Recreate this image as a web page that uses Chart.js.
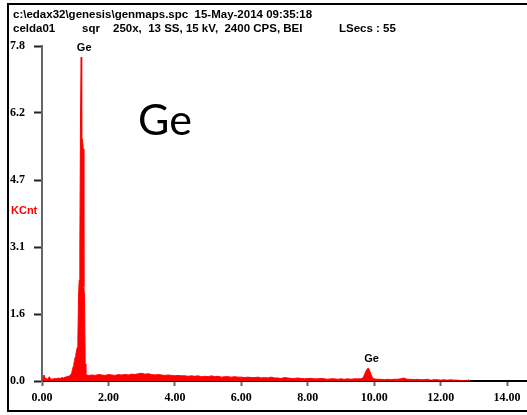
<!DOCTYPE html>
<html>
<head>
<meta charset="utf-8">
<script src="https://cdn.jsdelivr.net/npm/chart.js@4.4.1/dist/chart.umd.min.js"></script>
<style>
  html, body { margin: 0; padding: 0; background: #fff; overflow: hidden; }
  #wrap { position: relative; width: 527px; height: 415px; }
  #wrap canvas { position: absolute; left: 0; top: 0; }
  #frame {
    position: absolute; left: 7px; top: 3px; width: 540px; height: 409px;
    border: 2px solid #000; border-right: none; box-sizing: border-box;
    pointer-events: none;
  }
</style>
</head>
<body>
<div id="wrap">
  <canvas id="spectrum" width="527" height="415"></canvas>
  <div id="frame"></div>
</div>
<script>
// ---- Header text of the EDAX spectrum file ----
const headerPath = 'c:\\edax32\\genesis\\genmaps.spc';
const headerDate = '15-May-2014 09:35:18';
const sampleName = 'celda01';
const viewMode = 'sqr';
const conditions = '250x,  13 SS, 15 kV,  2400 CPS, BEI';
const liveTime = 'LSecs : 55';
const yUnit = 'KCnt';
const elementName = 'Ge';

// ---- Axis ticks ----
const xTickValues = [0, 2, 4, 6, 8, 10, 12, 14];
const xTickLabels = ['0.00', '2.00', '4.00', '6.00', '8.00', '10.00', '12.00', '14.00'];
const yTickValues = [0, 1.56, 3.12, 4.68, 6.24, 7.8];
const yTickLabels = ['0.0', '1.6', '3.1', '4.7', '6.2', '7.8'];
const xMax = 14.6;
const yMax = 7.8;

// ---- Spectrum: energy (keV) and counts (KCnt) ----
const energyKeV = [
  0.02, 0.06, 0.10, 0.14, 0.18, 0.22, 0.26, 0.30, 0.35, 0.40, 0.45, 0.50, 0.55, 0.60, 0.65, 0.70, 0.75, 0.80, 0.84,
  0.86, 0.88, 0.90, 0.92, 0.94, 0.96, 0.98, 1.00, 1.02, 1.04, 1.06, 1.08, 1.10, 1.12, 1.14, 1.16, 1.18, 1.19,
  1.20, 1.22, 1.24, 1.26, 1.28, 1.30, 1.32, 1.34,
  1.4, 1.5, 1.6, 1.7, 1.8, 1.9, 2.0, 2.1, 2.2, 2.3, 2.4, 2.5, 2.6, 2.7, 2.8, 2.9,
  3.0, 3.1, 3.2, 3.3, 3.4, 3.5, 3.6, 3.7, 3.8, 3.9, 4.0, 4.1, 4.2, 4.3, 4.4, 4.5, 4.6, 4.7, 4.8, 4.9,
  5.0, 5.1, 5.2, 5.3, 5.4, 5.5, 5.6, 5.7, 5.8, 5.9, 6.0, 6.1, 6.2, 6.3, 6.4, 6.5, 6.6, 6.7, 6.8, 6.9,
  7.0, 7.1, 7.2, 7.3, 7.4, 7.5, 7.6, 7.7, 7.8, 7.9, 8.0, 8.1, 8.2, 8.3, 8.4, 8.5, 8.6, 8.7, 8.8, 8.9,
  9.0, 9.1, 9.2, 9.3, 9.4, 9.5, 9.6,
  9.64, 9.68, 9.72, 9.76, 9.80, 9.82, 9.86, 9.90, 9.94, 9.98,
  10.1, 10.2, 10.3, 10.4, 10.5, 10.6, 10.7, 10.8, 10.84, 10.88, 10.92, 10.96,
  11.0, 11.1, 11.2, 11.3, 11.4, 11.5, 11.6, 11.7, 11.8, 11.9,
  12.0, 12.1, 12.2, 12.3, 12.4, 12.5, 12.6, 12.7, 12.8, 12.84, 12.88
];
const countsKCnt = [
  0.00, 0.14, 0.06, 0.05, 0.04, 0.10, 0.05, 0.04, 0.05, 0.06, 0.05, 0.07, 0.06, 0.08, 0.07, 0.09, 0.10, 0.11, 0.12,
  0.14, 0.17, 0.21, 0.27, 0.34, 0.40, 0.48, 0.56, 0.63, 0.70, 0.78, 0.98, 1.96, 2.35, 3.12, 6.19, 7.54, 6.19,
  5.63, 5.63, 5.40, 2.20, 1.96, 0.40, 0.18, 0.14,
  0.13, 0.14, 0.13, 0.15, 0.14, 0.13, 0.15, 0.14, 0.13, 0.15, 0.14, 0.15, 0.14, 0.16, 0.15, 0.17,
  0.18, 0.16, 0.17, 0.15, 0.14, 0.15, 0.14, 0.13, 0.14, 0.13, 0.12, 0.13, 0.12, 0.12, 0.11, 0.12, 0.11, 0.12, 0.10, 0.11,
  0.10, 0.12, 0.10, 0.11, 0.09, 0.10, 0.10, 0.09, 0.10, 0.09, 0.09, 0.08, 0.09, 0.08, 0.08, 0.09, 0.07, 0.08, 0.07, 0.09,
  0.07, 0.07, 0.06, 0.08, 0.07, 0.06, 0.06, 0.07, 0.06, 0.05, 0.06, 0.06, 0.05, 0.05, 0.06, 0.05, 0.04, 0.05, 0.05, 0.04,
  0.05, 0.04, 0.05, 0.04, 0.05, 0.05, 0.05,
  0.06, 0.10, 0.17, 0.24, 0.29, 0.30, 0.25, 0.16, 0.09, 0.05,
  0.04, 0.04, 0.03, 0.04, 0.03, 0.04, 0.04, 0.05, 0.06, 0.07, 0.06, 0.05,
  0.04, 0.04, 0.03, 0.04, 0.03, 0.03, 0.04, 0.02, 0.03, 0.03,
  0.02, 0.03, 0.02, 0.03, 0.02, 0.02, 0.01, 0.01, 0.00, 0.03, 0.00
];

// ---- Peak identification labels ----
const peakLabelText = ['Ge', 'Ge'];
const peakLabelKeV = [1.27, 9.92];
const peakLabelKCnt = [7.54, 0.30];

const fontSans = '"Liberation Sans", Arial, sans-serif';
const fontSerif = '"Liberation Serif", "Times New Roman", serif';

const annotations = {
  id: 'annotations',
  afterDraw(chart) {
    const { ctx } = chart;
    const xs = chart.scales.x, ys = chart.scales.y;
    ctx.save();
    ctx.textBaseline = 'alphabetic';
    ctx.textAlign = 'left';
    ctx.fillStyle = '#000';

    // file header
    ctx.font = 'bold 11.5px ' + fontSans;
    ctx.fillText(headerPath + '  ' + headerDate, 13, 18);
    ctx.fillText(sampleName, 13, 31.5);
    ctx.fillText(viewMode, 82, 31.5);
    ctx.fillText(conditions, 113, 31.5);
    ctx.fillText(liveTime, 339, 31.5);

    // unit on the vertical axis
    ctx.font = 'bold 11px ' + fontSans;
    ctx.fillStyle = '#ff0000';
    ctx.fillText(yUnit, 11, 214);

    // peak labels
    ctx.fillStyle = '#000';
    ctx.textAlign = 'center';
    peakLabelText.forEach((t, i) => {
      ctx.fillText(t, xs.getPixelForValue(peakLabelKeV[i]), ys.getPixelForValue(peakLabelKCnt[i]) - 6);
    });

    // element name
    ctx.textAlign = 'left';
    ctx.font = '43px Lato, "Open Sans", sans-serif';
    ctx.fillText(elementName, 138, 135);
    ctx.restore();
  }
};

new Chart(document.getElementById('spectrum'), {
  type: 'line',
  data: {
    datasets: [{
      data: energyKeV.map((e, i) => ({ x: e, y: countsKCnt[i] })),
      borderColor: '#ff0000',
      backgroundColor: '#ff0000',
      borderWidth: 1,
      pointRadius: 0,
      tension: 0,
      fill: 'origin'
    }]
  },
  options: {
    responsive: false,
    animation: false,
    devicePixelRatio: 1,
    events: [],
    layout: { padding: { top: 46, left: 10, right: 0, bottom: 0 } },
    plugins: { legend: { display: false }, tooltip: { enabled: false } },
    scales: {
      x: {
        type: 'linear',
        min: 0,
        max: xMax,
        z: 1,
        afterBuildTicks: s => { s.ticks = xTickValues.map(v => ({ value: v })); },
        afterFit: s => { s.height = 34; },
        grid: { drawOnChartArea: false, drawTicks: true, tickLength: 5, tickWidth: 2, tickColor: '#6a6a6a' },
        border: { display: true, color: '#000', width: 2 },
        ticks: {
          padding: 5,
          color: '#000',
          maxRotation: 0,
          autoSkip: false,
          font: { family: fontSerif, size: 12, weight: 'bold' },
          callback: (v, i) => xTickLabels[i]
        }
      },
      y: {
        min: 0,
        max: yMax,
        z: 1,
        afterBuildTicks: s => { s.ticks = yTickValues.map(v => ({ value: v })); },
        afterFit: s => { s.width = 32; },
        grid: { drawOnChartArea: false, drawTicks: true, tickLength: 8, tickWidth: 2, tickColor: '#222' },
        border: { display: true, color: '#666', width: 2 },
        ticks: {
          crossAlign: 'far',
          padding: 0,
          color: '#000',
          autoSkip: false,
          font: { family: fontSerif, size: 12, weight: 'bold' },
          callback: (v, i) => yTickLabels[i]
        }
      }
    }
  },
  plugins: [annotations]
});
</script>
</body>
</html>
